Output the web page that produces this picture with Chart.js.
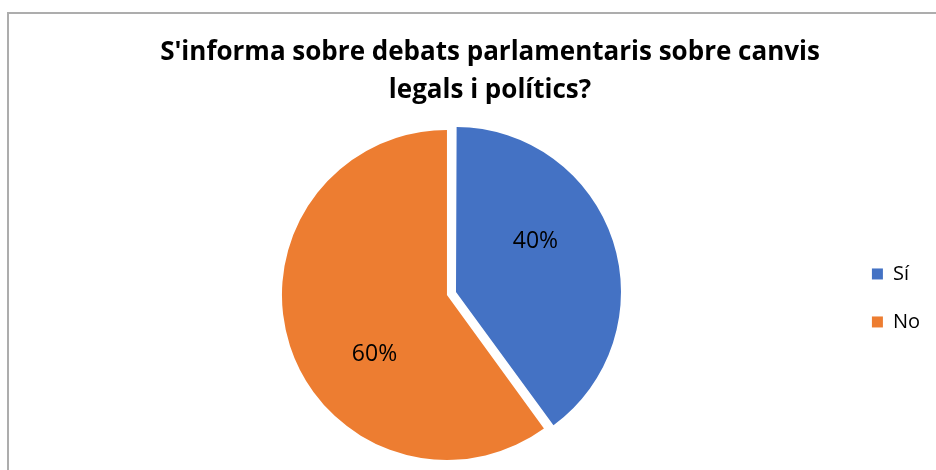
<!DOCTYPE html>
<html><head><meta charset="utf-8">
<script src="https://cdn.jsdelivr.net/npm/chart.js@4"></script>
<style>
html,body{margin:0;padding:0;background:#fff;overflow:hidden;}
#wrap{position:relative;width:936px;height:470px;overflow:hidden;}
#frame{position:absolute;left:7px;top:12px;width:1000px;height:1000px;border:2px solid #ADADAD;box-sizing:border-box;}
canvas{position:absolute;left:0;top:0;}
</style></head>
<body><div id="wrap"><div id="frame"></div><canvas id="c" width="936" height="470" style="width:936px;height:470px"></canvas></div>
<script>
const titleLines = ["S'informa sobre debats parlamentaris sobre canvis", "legals i polítics?"];
const categories = ["Sí", "No"];
const values = [40, 60];

const FONT = "'Open Sans', sans-serif";

// Chart.js enlarges an exploded slice's radius (offset * (1 - sin(circumference)));
// undo that so the exploded slice keeps the same radius as the rest of the pie.
const keepRadius = {
  id: 'keepRadius',
  beforeDatasetsDraw(chart) {
    const meta = chart.getDatasetMeta(0);
    meta.data.forEach(arc => {
      const off = (arc.options.offset || 0) / 4;
      if (!off) return;
      const circ = arc.endAngle - arc.startAngle;
      const fix = 1 - Math.sin(Math.min(Math.PI, circ));
      if (arc._baseR === undefined) arc._baseR = arc.outerRadius;
      arc.outerRadius = arc._baseR - off * fix;
    });
  }
};

const pieLabels = {
  id: 'pieLabels',
  afterDatasetsDraw(chart) {
    const ctx = chart.ctx;
    const meta = chart.getDatasetMeta(0);
    const ds = chart.data.datasets[0];
    const total = ds.data.reduce((a, b) => a + b, 0);
    ctx.save();
    ctx.font = "23px " + FONT;
    ctx.fillStyle = '#000';
    ctx.textAlign = 'center';
    ctx.textBaseline = 'middle';
    meta.data.forEach((arc, i) => {
      const p = arc.getProps(['x', 'y', 'startAngle', 'endAngle'], true);
      const R = arc._baseR !== undefined ? arc._baseR : arc.outerRadius;
      const off = (arc.options.offset || 0) / 4;
      const mid = (p.startAngle + p.endAngle) / 2;
      const cx = p.x + Math.cos(mid) * off;
      const cy = p.y + Math.sin(mid) * off;
      const a = p.startAngle + 0.4 * (p.endAngle - p.startAngle);
      const r = 0.57 * R;
      const pct = Math.round(ds.data[i] / total * 100) + '%';
      ctx.fillText(pct, cx + Math.cos(a) * r, cy + Math.sin(a) * r);
    });
    ctx.restore();
  }
};

new Chart(document.getElementById('c'), {
  type: 'pie',
  data: {
    labels: categories,
    datasets: [{
      data: values,
      backgroundColor: ['#4472C4', '#ED7D31'],
      borderWidth: 0,
      offset: [38, 0],
      radius: 165
    }]
  },
  options: {
    responsive: false,
    animation: false,
    devicePixelRatio: 1,
    layout: { padding: { left: 50, right: 6, top: 0, bottom: 0 } },
    plugins: {
      tooltip: { enabled: false },
      title: {
        display: true,
        text: titleLines,
        color: '#000',
        font: { family: FONT, size: 26, weight: 'bold', lineHeight: 1.46 },
        padding: { top: 34, bottom: 10 }
      },
      legend: {
        position: 'right',
        align: 'center',
        fullSize: false,
        title: { display: true, text: '', font: { size: 1, lineHeight: 1 }, padding: { top: 5, bottom: 0 } },
        labels: {
          color: '#000',
          font: { family: FONT, size: 20 },
          boxWidth: 11,
          boxHeight: 11,
          padding: 28
        }
      }
    }
  },
  plugins: [keepRadius, pieLabels]
});
</script>
</body></html>
